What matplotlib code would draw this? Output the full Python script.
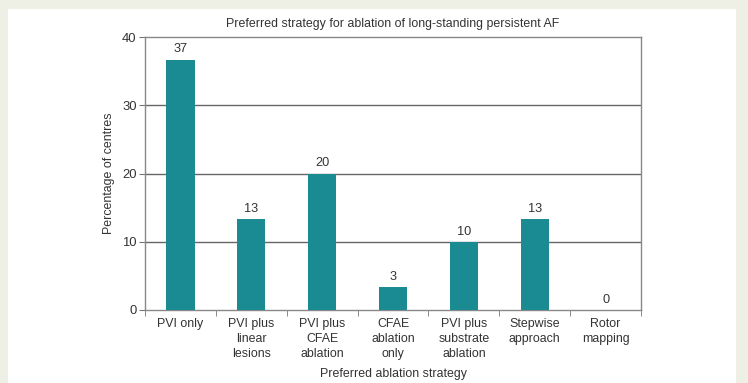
import matplotlib
matplotlib.use("Agg")
import matplotlib.pyplot as plt
from matplotlib.patches import Rectangle

plt.rcParams['font.family'] = ['Liberation Sans', 'DejaVu Sans']

categories = ["PVI only", "PVI plus\nlinear\nlesions", "PVI plus\nCFAE\nablation",
              "CFAE\nablation\nonly", "PVI plus\nsubstrate\nablation",
              "Stepwise\napproach", "Rotor\nmapping"]
values = [36.7, 13.3, 20.0, 3.3, 10.0, 13.3, 0.0]
labels = ["37", "13", "20", "3", "10", "13", "0"]
yticks = [0, 10, 20, 30, 40]

FS = 8.9
fig = plt.figure(figsize=(7.48, 3.83), dpi=100, facecolor="#EFF0E5")
fig.patches.append(Rectangle((8/748, 0), (736-8)/748, 1 - 9/383,
                             transform=fig.transFigure, facecolor="white",
                             edgecolor="none", zorder=-10))
ax = fig.add_axes([145/748, 1-310/383, (641-145)/748, (310-37)/383])
ax.set_facecolor("white")

x = list(range(len(categories)))
bars = ax.bar(x, values, width=0.4, color="#1A8A93", zorder=3)
for xi, v, lab in zip(x, values, labels):
    ax.annotate(lab, (xi, v), xytext=(0, 3), textcoords="offset points",
                ha="center", va="bottom", fontsize=FS + 0.3, color="#333333")

ax.set_xlim(-0.5, len(categories) - 0.5)
ax.set_ylim(0, 40)
ax.set_yticks(yticks)
ax.set_xticks(x)
ax.set_xticklabels(categories, fontsize=FS, color="#333333", linespacing=1.32)
ax.tick_params(axis="x", length=0, pad=6)
ax.set_xticks([i + 0.5 for i in range(-1, len(categories))], minor=True)
ax.tick_params(axis="x", which="minor", length=4, color="#777777", direction="out")
ax.tick_params(axis="y", length=4, color="#777777", labelsize=FS + 0.5, labelcolor="#333333", pad=2)

for s in ax.spines.values():
    s.set_color("#888888")
    s.set_linewidth(1.0)

for yv in [10, 20, 30]:
    ax.axhline(yv, color="#666666", linewidth=1.0, zorder=1)

ax.set_title("Preferred strategy for ablation of long-standing persistent AF",
             fontsize=FS, color="#333333", pad=7)
ax.set_xlabel("Preferred ablation strategy", fontsize=FS, color="#333333", labelpad=6)
ax.set_ylabel("Percentage of centres", fontsize=FS, color="#333333", labelpad=5)

fig.savefig("out.png", dpi=100, facecolor=fig.get_facecolor())
